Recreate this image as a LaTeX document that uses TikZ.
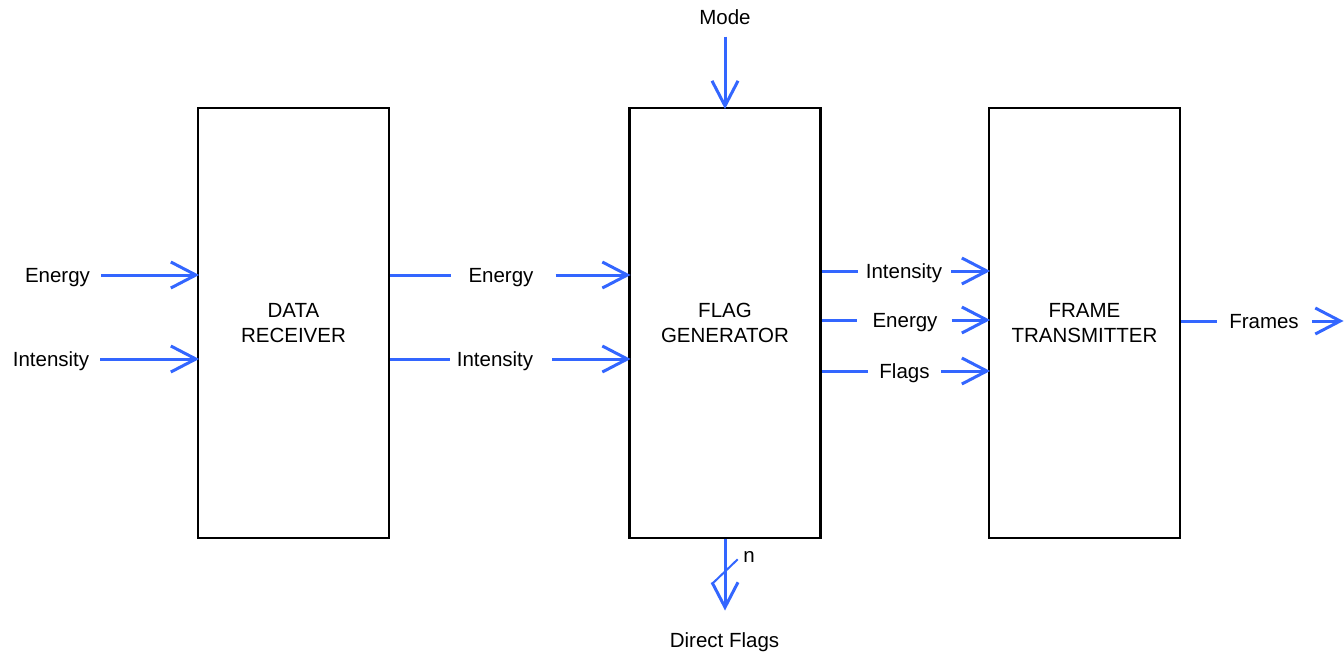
\documentclass[tikz,border=0pt]{standalone}
\usepackage{fontspec}
\setmainfont{Liberation Sans}
\usetikzlibrary{arrows.meta}
\definecolor{wirec}{RGB}{51,102,255}
\begin{document}
\begin{tikzpicture}[x=1pt,y=-1pt,
  block/.style={draw=black, line width=2.8pt, minimum width=191pt, minimum height=430pt,
    align=center, inner sep=0pt, font=\fontsize{20.5}{24.5}\selectfont},
  lbl/.style={inner sep=0pt, text height=14.7pt, text depth=0pt, font=\fontsize{20.5}{24}\selectfont},
  wire/.style={draw=wirec, line width=3pt},
  arr/.style={wire, shorten >=-2.5pt, -{Straight Barb[length=25pt,width=26pt]}}]
\useasboundingbox (0,0) rectangle (1344,654);

% blocks
\node[block] (b1) at (293.5,323) {DATA\\RECEIVER};
\node[block] (b2) at (725,323) {FLAG\\GENERATOR};
\node[block] (b3) at (1084.5,323) {FRAME\\TRANSMITTER};

% inputs of data receiver
\node[lbl] (inE) at (57.5,275) {Energy};
\node[lbl] (inI) at (51,359) {Intensity};
\draw[arr] ([xshift=11pt]inE.east) -- (b1.west |- inE);
\draw[arr] ([xshift=11pt]inI.east) -- (b1.west |- inI);

% data receiver -> flag generator
\node[lbl] (mE) at (501,275) {Energy};
\node[lbl] (mI) at (495,359) {Intensity};
\draw[wire] (b1.east |- mE) -- ([xshift=-17pt]mE.west);
\draw[arr] ([xshift=22pt]mE.east) -- (b2.west |- mE);
\draw[wire] (b1.east |- mI) -- ([xshift=-7pt]mI.west);
\draw[arr] ([xshift=19pt]mI.east) -- (b2.west |- mI);

% mode
\node[lbl] (mode) at (725,17) {Mode};
\draw[arr] ([yshift=-12pt]mode.south) -- (b2.north);

% flag generator -> frame transmitter
\node[lbl] (oI) at (904,271) {Intensity};
\node[lbl] (oE) at (905,320) {Energy};
\node[lbl] (oF) at (904.5,371) {Flags};
\draw[wire] (b2.east |- oI) -- ([xshift=-8pt]oI.west);
\draw[arr] ([xshift=9pt]oI.east) -- (b3.west |- oI);
\draw[wire] (b2.east |- oE) -- ([xshift=-15pt]oE.west);
\draw[arr] ([xshift=14pt]oE.east) -- (b3.west |- oE);
\draw[wire] (b2.east |- oF) -- ([xshift=-11pt]oF.west);
\draw[arr] ([xshift=11pt]oF.east) -- (b3.west |- oF);

% frames output
\node[lbl] (fr) at (1264,321) {Frames};
\coordinate (frEnd) at (1341,321);
\draw[wire] (b3.east |- fr) -- ([xshift=-12pt]fr.west);
\draw[arr] ([xshift=13pt]fr.east) -- (frEnd);

% direct flags
\node[lbl] (df) at (724.5,640) {Direct Flags};
\coordinate (dfTip) at (725,608);
\draw[arr] (b2.south) -- (dfTip);
\coordinate (s1) at (712.7,583.3);
\coordinate (s2) at (737.7,559.3);
\draw[wire, line width=2pt] (s1) -- (s2);
\node[inner sep=0pt, font=\fontsize{20.5}{24}\selectfont] (nn) at (749,557) {n};
\end{tikzpicture}
\end{document}
